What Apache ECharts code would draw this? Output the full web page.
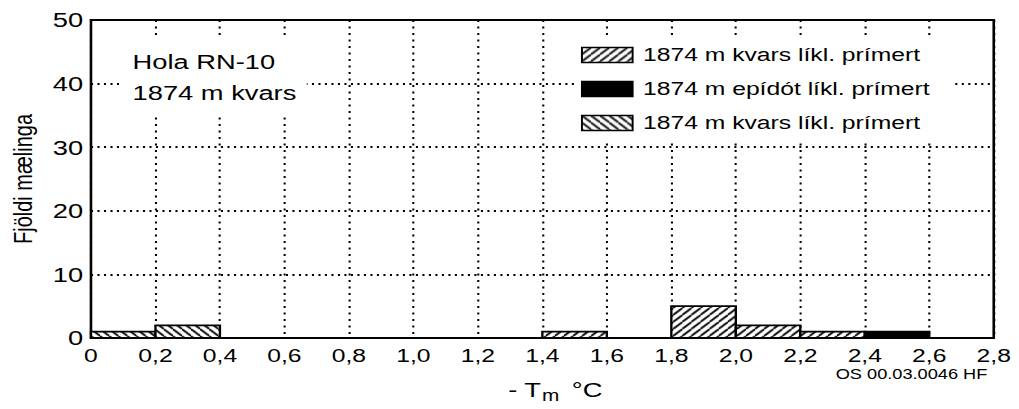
<!DOCTYPE html>
<html>
<head>
<meta charset="utf-8">
<script src="https://cdn.jsdelivr.net/npm/echarts@6/dist/echarts.min.js"></script>
<style>
  html, body { margin: 0; padding: 0; background: #fff; overflow: hidden; }
  #wrap { width: 1019px; height: 409px; overflow: hidden; }
  #chart { width: 784px; height: 409px; transform: scaleX(1.2997); transform-origin: 0 0; }
</style>
</head>
<body>
<div id="wrap"><div id="chart"></div></div>
<script>
// ---- data ----
const binWidth = 0.2;
const kvarsAStarts = [1.4, 1.8, 2.0, 2.2];
const kvarsACounts = [1, 5, 2, 1];
const epidotStarts = [2.4];
const epidotCounts = [1];
const kvarsCStarts = [0, 0.2];
const kvarsCCounts = [1, 2];
const seriesNames = ['1874 m kvars líkl. prímert', '1874 m epídót líkl. prímert', '1874 m kvars líkl. prímert '];
const xTickLabels = ['0', '0,2', '0,4', '0,6', '0,8', '1,0', '1,2', '1,4', '1,6', '1,8', '2,0', '2,2', '2,4', '2,6', '2,8'];
const yTickLabels = ['0', '10', '20', '30', '40', '50'];
const titleLines = ['Hola RN-10', '1874 m kvars'];
const yAxisName = 'Fjöldi mælinga';
const footer = 'OS 00.03.0046 HF';

function toBins(starts, counts) {
  return starts.map((s, i) => [s, +(s + binWidth).toFixed(2), counts[i]]);
}

function makeHatch(dir) {
  const s = 7;
  const c = document.createElement('canvas');
  c.width = s; c.height = s;
  const g = c.getContext('2d');
  g.fillStyle = '#fff'; g.fillRect(0, 0, s, s);
  g.strokeStyle = '#000'; g.lineWidth = 1.6; g.beginPath();
  for (const o of [-s, 0, s]) {
    if (dir === 'fwd') { g.moveTo(o, s); g.lineTo(o + s, 0); }
    else { g.moveTo(o, 0); g.lineTo(o + s, s); }
  }
  g.stroke();
  return { image: c, repeat: 'repeat' };
}
const fills = [makeHatch('fwd'), '#000', makeHatch('back')];

function renderHist(params, api) {
  const tl = api.coord([api.value(0), api.value(2)]);
  const br = api.coord([api.value(1), 0]);
  return {
    type: 'rect',
    shape: { x: tl[0], y: tl[1], width: br[0] - tl[0], height: br[1] - tl[1] },
    style: { fill: fills[params.seriesIndex], stroke: '#000', lineWidth: 1.8 }
  };
}

const FONT = '"Liberation Sans", Arial, sans-serif';
const chart = echarts.init(document.getElementById('chart'), null, { renderer: 'svg' });

const allBins = [toBins(kvarsAStarts, kvarsACounts), toBins(epidotStarts, epidotCounts), toBins(kvarsCStarts, kvarsCCounts)];

chart.setOption({
  animation: false,
  backgroundColor: '#fff',
  textStyle: { fontFamily: FONT, color: '#000' },
  grid: { left: 67.7, right: 19.4, top: 20, bottom: 71, show: true, borderColor: '#000', borderWidth: 2, backgroundColor: 'transparent' },
  title: {
    text: titleLines.join('\n'),
    left: 94, top: 39,
    padding: [7, 8, 8, 8],
    backgroundColor: '#fff',
    textStyle: { fontFamily: FONT, fontSize: 21, lineHeight: 31, fontWeight: 'normal', color: '#000' }
  },
  legend: {
    orient: 'vertical',
    left: 442, top: 36,
    padding: [9, 18, 8, 5],
    backgroundColor: '#fff',
    itemGap: 14,
    itemWidth: 39, itemHeight: 15,
    icon: 'rect',
    itemStyle: { borderColor: '#000', borderWidth: 1.5 },
    textStyle: { fontFamily: FONT, fontSize: 19, lineHeight: 20, color: '#000', padding: [0, 0, 0, 3] },
    data: seriesNames
  },
  xAxis: {
    type: 'value', min: 0, max: 2.8, interval: 0.2,
    axisLine: { show: false }, axisTick: { show: false },
    axisLabel: { fontFamily: FONT, fontSize: 19, color: '#000', margin: 8, showMaxLabel: true, showMinLabel: true,
      formatter: v => xTickLabels[Math.round(v / binWidth)] },
    splitLine: { show: true, lineStyle: { color: '#000', width: 1.6, type: [2, 4.5] } }
  },
  yAxis: {
    type: 'value', min: 0, max: 50, interval: 10,
    name: yAxisName, nameLocation: 'middle', nameGap: 42,
    nameTextStyle: { fontFamily: FONT, fontSize: 20, color: '#000' },
    axisLine: { show: false }, axisTick: { show: false },
    axisLabel: { fontFamily: FONT, fontSize: 21, color: '#000', margin: 6,
      formatter: v => yTickLabels[Math.round(v / 10)] },
    splitLine: { show: true, lineStyle: { color: '#000', width: 2, type: [1.6, 3.4] } }
  },
  series: seriesNames.map((n, i) => ({
    name: n,
    type: 'custom',
    renderItem: renderHist,
    itemStyle: { color: fills[i], borderColor: '#000', borderWidth: 1.5 },
    encode: { x: [0, 1], y: 2 },
    data: allBins[i],
    z: 3
  })),
  graphic: [
    { type: 'text', left: 391, top: 379, style: { text: '- T', font: '21px ' + FONT, fill: '#000' } },
    { type: 'text', left: 417, top: 387, style: { text: 'm', font: '16px ' + FONT, fill: '#000' } },
    { type: 'text', left: 440, top: 379, style: { text: '°C', font: '21px ' + FONT, fill: '#000' } },
    { type: 'text', left: 643, top: 367, style: { text: footer, font: '14px ' + FONT, fill: '#000' } }
  ]
});
</script>
</body>
</html>
